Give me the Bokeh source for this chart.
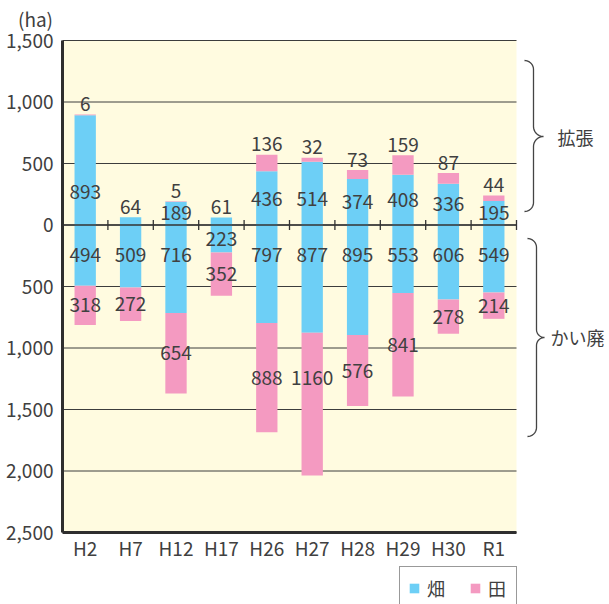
import numpy as np
from bokeh.plotting import figure
from bokeh.models import (ColumnDataSource, FixedTicker, CustomJSTickFormatter,
                          Range1d, Legend, LegendItem, LinearAxis)
from bokeh.core.properties import value
from bokeh.embed import file_html
from bokeh.resources import INLINE

# ---- data ----
years = ["H2", "H7", "H12", "H17", "H26", "H27", "H28", "H29", "H30", "R1"]
exp_hata = [893, 64, 189, 61, 436, 514, 374, 408, 336, 195]   # 拡張 畑
exp_ta = [6, 0, 5, 0, 136, 32, 73, 159, 87, 44]                # 拡張 田
dec_hata = [494, 509, 716, 223, 797, 877, 895, 553, 606, 549]  # かい廃 畑
dec_ta = [318, 272, 654, 352, 888, 1160, 576, 841, 278, 214]   # かい廃 田
y_ticks = [1500, 1000, 500, 0, -500, -1000, -1500, -2000, -2500]
legend_labels = ["畑", "田"]
side_labels = ["拡張", "かい廃"]
unit_label = "(ha)"

# ---- style ----
BLUE = "#6dcff6"
PINK = "#f49ac1"
BG = "#fffbe0"
TXT = "#404040"
LINE = "#3c3c3c"
FONT = "Noto Sans CJK JP"
FS = "19px"

n = len(years)
xc = np.arange(n) + 0.5
W = 0.47
eh = np.array(exp_hata); et = np.array(exp_ta)
dh = np.array(dec_hata); dt = np.array(dec_ta)
YMAX, YMIN = y_ticks[0], y_ticks[-1]

# page geometry: plot area spans page px 62..516 (x) and 40..532 (y)
FL, FT, FW, FH = 62, 40, 454, 492
PW, PH = 609, 604
def dx(px):
    return (px - FL) / FW * n
def dy(py):
    return YMAX - (py - FT) / FH * (YMAX - YMIN)

p = figure(width=PW, height=PH,
           x_range=Range1d(dx(0), dx(PW)), y_range=Range1d(dy(PH), dy(0)),
           output_backend="svg", toolbar_location=None,
           x_axis_type=None, y_axis_type=None,
           min_border=0, min_border_left=0, min_border_right=0,
           min_border_top=0, min_border_bottom=0)
p.background_fill_color = "white"
p.border_fill_color = "white"
p.outline_line_color = None
p.grid.visible = False

# plot-area background and horizontal grid lines
p.quad(left=0, right=n, bottom=YMIN, top=YMAX, fill_color=BG, line_color=None)
p.segment(x0=[0] * len(y_ticks), x1=[n] * len(y_ticks), y0=y_ticks, y1=y_ticks,
          line_color=LINE, line_width=1)

# axes at fixed positions
yax = LinearAxis(fixed_location=0, bounds=(YMIN, YMAX),
                 ticker=FixedTicker(ticks=y_ticks),
                 formatter=CustomJSTickFormatter(code="return Math.abs(tick).toLocaleString('en-US');"))
xax = LinearAxis(fixed_location=YMIN, bounds=(0, n), ticker=FixedTicker(ticks=list(xc)))
xax.major_label_overrides = {float(x): y for x, y in zip(xc, years)}
for ax in (xax, yax):
    ax.axis_line_width = 3
    ax.axis_line_color = "#2e2e2e"
    ax.major_tick_line_color = None
    ax.minor_tick_line_color = None
    ax.major_label_text_font = FONT
    ax.major_label_text_font_size = FS
    ax.major_label_text_color = TXT
yax.major_label_standoff = 3
xax.major_label_standoff = -5
p.add_layout(yax, "left")
p.add_layout(xax, "below")

# bars
r_b = p.vbar(x=xc, bottom=0, top=eh, width=W, fill_color=BLUE, line_color=None)
r_p = p.vbar(x=xc, bottom=eh, top=eh + et, width=W, fill_color=PINK, line_color=None)
p.vbar(x=xc, top=0, bottom=-dh, width=W, fill_color=BLUE, line_color=None)
p.vbar(x=xc, top=-dh, bottom=-(dh + dt), width=W, fill_color=PINK, line_color=None)

# zero line and separators
p.segment(x0=[0], x1=[n], y0=[0], y1=[0], line_color="#333", line_width=1.3)
p.scatter(x=np.arange(1, n + 1), y=np.zeros(n), marker="dash", angle=np.pi / 2, size=10,
          line_color="#333", line_width=1.3)

# value labels
lx, ly, lt, lb = [], [], [], []
for i in range(n):
    top = eh[i] + et[i]
    lx.append(xc[i]); ly.append(top + 85); lt.append(str(et[i] if et[i] > 0 else eh[i])); lb.append("alphabetic")
    if et[i] > 0:
        lx.append(xc[i]); ly.append(min(eh[i] / 2, 215) if eh[i] < 800 else eh[i] * 0.3); lt.append(str(eh[i])); lb.append("middle")
    lx.append(xc[i]); ly.append(-min(dh[i] / 2, 246)); lt.append(str(dh[i])); lb.append("middle")
    lx.append(xc[i]); ly.append(-min(dh[i] + dt[i] / 2, 1240)); lt.append(str(dt[i])); lb.append("middle")
src = ColumnDataSource(dict(x=lx, y=ly, t=lt, b=lb))
p.text(x="x", y="y", text="t", source=src, text_align="center", text_baseline="b",
       text_font=value(FONT), text_font_size=FS, text_color=TXT)

# unit label and side labels
p.text(x=[dx(35)], y=[dy(18)], text=[unit_label], text_align="center", text_baseline="middle",
       text_font=value(FONT), text_font_size=FS, text_color=TXT)
p.text(x=[dx(575), dx(577)], y=[dy(136), dy(336)], text=side_labels, text_align="center",
       text_baseline="middle", text_font=value(FONT), text_font_size="18px", text_color=TXT)

# braces
def brace(top, bot, mid, xend, xstem, xtip):
    r1 = xstem - xend
    r2 = xtip - xstem
    t = np.linspace(0, np.pi / 2, 12)
    pts = []
    pts += list(zip(xend + r1 * np.sin(t), top + r1 - r1 * np.cos(t)))
    pts += list(zip(xtip - r2 * np.cos(t), mid - r2 + r2 * np.sin(t)))
    pts += list(zip(xtip - r2 * np.sin(t), mid + r2 - r2 * np.cos(t)))
    pts += list(zip(xend + r1 * np.cos(t), bot - r1 + r1 * np.sin(t)))
    return [dx(a) for a, b in pts], [dy(b) for a, b in pts]

bx, by = [], []
for args in [(60, 211, 136, 524, 533, 543), (238, 436, 337, 527, 536, 544)]:
    xs, ys = brace(*args)
    bx.append(xs); by.append(ys)
p.multi_line(xs=bx, ys=by, line_color="#444", line_width=1.3)

# legend
legend = Legend(items=[LegendItem(label=legend_labels[0], renderers=[r_b]),
                       LegendItem(label=legend_labels[1], renderers=[r_p])],
                orientation="horizontal", location=(399, -6),
                border_line_color="#333", border_line_width=1.5,
                background_fill_color="white", background_fill_alpha=1,
                padding=8, margin=0, spacing=22, label_standoff=7,
                glyph_width=12, glyph_height=12, label_height=12,
                label_text_font=FONT, label_text_font_size="18px", label_text_color=TXT)
p.add_layout(legend)

open("out.html", "w").write(file_html(p, INLINE))
